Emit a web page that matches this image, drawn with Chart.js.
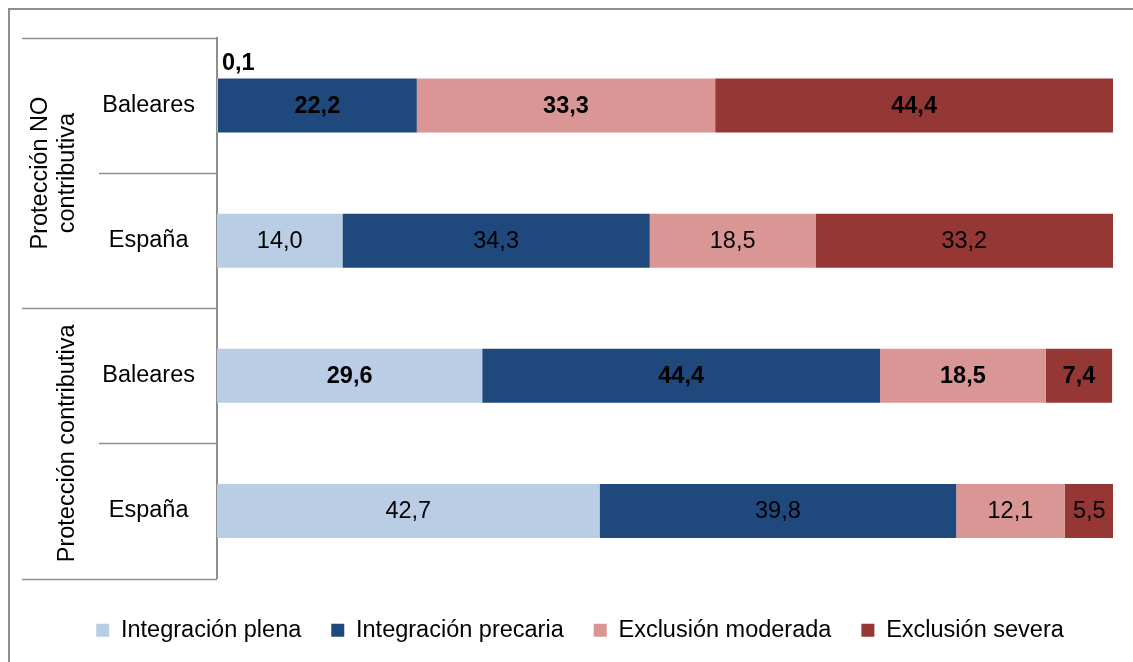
<!DOCTYPE html>
<html lang="es">
<head>
<meta charset="utf-8">
<title>Protección contributiva / NO contributiva</title>
<script src="https://cdn.jsdelivr.net/npm/chart.js@4/dist/chart.umd.min.js"></script>
<style>
  html, body { margin: 0; padding: 0; background: #fff; overflow: hidden; }
  #frame {
    position: absolute; left: 8px; top: 8px;
    width: 1300px; height: 800px;
    border-top: 2px solid #8e8e8e; border-left: 2px solid #8e8e8e;
  }
  #chartCanvas { position: absolute; left: 0; top: 0; }
</style>
</head>
<body>
<div id="frame"></div>
<canvas id="chartCanvas" width="1133" height="662"></canvas>
<script>
/* ===============================
   DATA
   =============================== */
const categories = ["Baleares", "España", "Baleares", "España"];
const groups = [["Protección NO", "contributiva"], ["Protección contributiva"]];

const plena    = [0.1, 14.0, 29.6, 42.7];
const precaria = [22.2, 34.3, 44.4, 39.8];
const moderada = [33.3, 18.5, 18.5, 12.1];
const severa   = [44.4, 33.2, 7.4, 5.5];

const seriesNames = ["Integración plena", "Integración precaria", "Exclusión moderada", "Exclusión severa"];
const seriesColors = ["#B9CDE5", "#1F497D", "#D99694", "#953735"];

const FONT = "'Liberation Sans', Arial, sans-serif";
const FONT_SIZE = 23.5;
const LINE_COLOR = "#8e8e8e";

/* ---------- value labels (comma decimals) ---------- */
const valueLabels = {
  id: "valueLabels",
  afterDatasetsDraw(chart) {
    const ctx = chart.ctx;
    ctx.save();
    ctx.fillStyle = "#000";
    ctx.textBaseline = "middle";
    chart.data.datasets.forEach((ds, i) => {
      const meta = chart.getDatasetMeta(i);
      meta.data.forEach((bar, j) => {
        const v = ds.data[j];
        const txt = v.toFixed(1).replace(".", ",");
        const bold = j % 2 === 0; // Baleares rows in bold
        ctx.font = (bold ? "bold " : "") + FONT_SIZE + "px " + FONT;
        if (v < 1) {
          // too thin: put it above the bar
          ctx.textAlign = "left";
          ctx.fillText(txt, bar.base + 5, bar.y - bar.height / 2 - 15);
        } else {
          ctx.textAlign = "center";
          ctx.fillText(txt, (bar.x + bar.base) / 2, bar.y + 1);
        }
      });
    });
    ctx.restore();
  }
};

/* ---------- two-level category axis ---------- */
const groupAxis = {
  id: "groupAxis",
  afterDraw(chart) {
    const ctx = chart.ctx;
    const y = chart.scales.y;
    const axisX = chart.chartArea.left;
    ctx.save();
    ctx.strokeStyle = LINE_COLOR;
    ctx.lineWidth = 1.5;
    // separators between rows; group boundaries go further left
    for (let i = 0; i <= categories.length; i++) {
      const py = Math.round(y.getPixelForValue(i - 0.5)) + 0.5;
      const startX = i % 2 === 0 ? 22 : 99;
      ctx.beginPath();
      ctx.moveTo(startX, py);
      ctx.lineTo(axisX, py);
      ctx.stroke();
    }
    // rotated group names
    ctx.fillStyle = "#000";
    ctx.font = FONT_SIZE + "px " + FONT;
    ctx.textAlign = "center";
    ctx.textBaseline = "alphabetic";
    groups.forEach((lines, g) => {
      const cy = (y.getPixelForValue(g * 2) + y.getPixelForValue(g * 2 + 1)) / 2;
      lines.forEach((line, k) => {
        const bx = 74 - (lines.length - 1 - k) * 27;
        ctx.save();
        ctx.translate(bx, cy);
        ctx.rotate(-Math.PI / 2);
        ctx.fillText(line, 0, 0);
        ctx.restore();
      });
    });
    ctx.restore();
  }
};

/* ---------- INIT GRAPH ---------- */
const ctx = document.getElementById("chartCanvas").getContext("2d");
const seriesData = [plena, precaria, moderada, severa];

new Chart(ctx, {
  type: "bar",
  data: {
    labels: categories,
    datasets: seriesData.map((d, i) => ({
      label: seriesNames[i],
      data: d,
      backgroundColor: seriesColors[i],
      borderWidth: 0,
      barPercentage: 0.4,
      categoryPercentage: 1
    }))
  },
  options: {
    indexAxis: "y",
    responsive: false,
    animation: false,
    layout: { padding: { top: 38, left: 47, right: 20, bottom: 10 } },
    scales: {
      x: {
        stacked: true,
        min: 0,
        max: 100,
        display: true,
        ticks: { display: false },
        grid: { display: false, drawTicks: false },
        border: { display: false },
        afterFit(scale) { scale.height = 10; }
      },
      y: {
        stacked: true,
        grid: { display: false, drawTicks: false },
        border: { display: true, color: LINE_COLOR, width: 2 },
        ticks: {
          color: "#000",
          padding: 22,
          crossAlign: "center",
          font: { family: FONT, size: FONT_SIZE }
        },
        afterFit(scale) { scale.width = 170; }
      }
    },
    plugins: {
      legend: {
        position: "bottom",
        labels: {
          color: "#000",
          boxWidth: 13,
          boxHeight: 13,
          padding: 30,
          font: { family: FONT, size: FONT_SIZE }
        }
      },
      tooltip: { enabled: false }
    }
  },
  plugins: [valueLabels, groupAxis]
});
</script>
</body>
</html>
